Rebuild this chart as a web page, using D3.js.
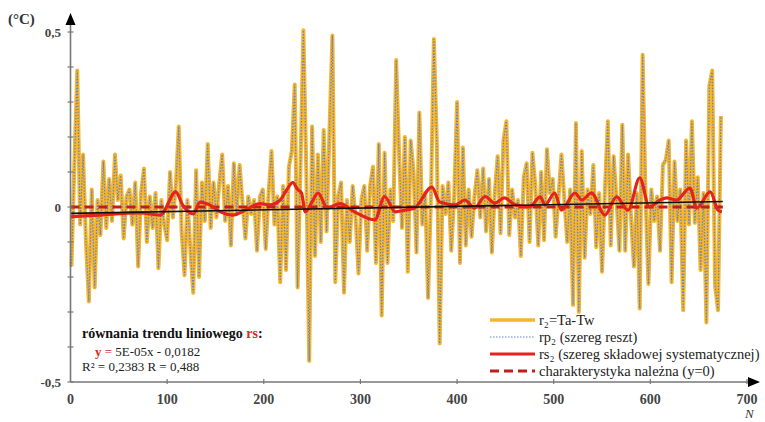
<!DOCTYPE html>
<html><head><meta charset="utf-8">
<script src="https://cdn.jsdelivr.net/npm/d3@7/dist/d3.min.js"></script>
<style>body{margin:0;background:#fff}svg{display:block}</style>
</head><body>
<svg id="c" width="765" height="422" font-family="'Liberation Serif','Times New Roman','DejaVu Serif',serif"></svg>
<script>
// r2 = Ta - Tw, sampled every 3rd observation starting at N=1
const r2Start = 1, r2Step = 3;
const r2 = [
-0.17,0.12,0.39,-0.05,0.15,-0.10,-0.27,0.05,-0.23,0.02,
-0.08,0.13,-0.06,0.08,-0.04,0.15,0.02,0.09,-0.09,0.03,
0.05,-0.05,0.07,-0.17,0.04,0.11,-0.10,0.03,-0.06,0.04,
-0.175,0.02,-0.05,-0.095,0.10,-0.03,0.06,0.23,-0.07,-0.195,
0.02,-0.12,-0.245,0.105,-0.20,0.07,-0.04,0.18,-0.06,0.07,
-0.03,0.07,0.15,-0.04,0.06,-0.11,0.125,-0.02,0.12,0.01,
-0.09,0.03,-0.02,0.02,-0.125,0.03,0.05,-0.12,0.04,0.16,
-0.05,0.03,-0.215,0.06,-0.18,0.115,0.16,0.35,-0.23,0.12,
0.505,0.10,-0.44,0.23,-0.14,0.15,-0.10,0.22,-0.07,0.22,
0.49,-0.215,0.03,0.07,-0.245,0.02,-0.10,0.06,-0.03,-0.19,
0.02,0.06,-0.125,0.06,0.115,-0.16,0.18,-0.31,0.155,-0.16,
0.05,-0.04,0.42,0.15,-0.06,0.20,-0.185,0.19,0.10,-0.13,
0.27,-0.05,0.04,-0.26,0.03,0.48,0.19,-0.39,0.06,-0.02,
0.07,-0.125,0.03,0.30,-0.16,0.17,-0.11,0.05,-0.085,0.03,
0.105,-0.03,0.11,-0.07,0.08,-0.13,0.04,0.145,-0.075,0.19,
0.245,-0.08,0.05,-0.03,0.02,-0.14,0.085,0.125,-0.10,0.155,
0.06,-0.11,0.10,-0.095,0.165,0.04,0.08,-0.085,0.03,0.15,
0.02,-0.10,0.05,-0.28,0.24,-0.30,0.16,-0.145,0.05,-0.02,
0.12,-0.115,0.04,-0.185,0.05,0.245,-0.11,0.145,0.02,-0.125,
0.235,-0.125,0.15,-0.03,-0.17,0.04,-0.29,0.435,0.03,-0.22,
0.05,-0.04,0.03,-0.125,0.12,0.135,0.19,-0.215,0.13,-0.04,
0.05,-0.295,0.19,-0.05,0.245,-0.045,0.085,-0.18,0.04,-0.33,
0.345,0.39,-0.225,-0.295,0.26
];
// rs2 systematic component (smoothed)
const rsN = [0,30,72,93,109,116,127,134,144,155,168,180,196,206,217,224,230,235,239,243,250,256,266,279,294,315,325,336,346,356,374,382,398,408,418,429,439,449,460,475,486,491,501,508,522,529,539,553,565,577,589,599,610,617,627,641,648,662,670,674];
const rsV = [-0.028,-0.023,-0.017,-0.023,0.043,0.006,-0.02,0.014,0.006,-0.014,-0.023,-0.01,0.01,0.006,0.02,0.05,0.07,0.05,0.04,-0.014,0.015,0.04,-0.003,0.01,-0.014,-0.037,0.03,-0.014,-0.009,-0.003,0.057,0.014,0.006,0.02,-0.003,0.03,0.011,0.026,0.006,0,0.029,0.006,0.04,-0.009,0.04,0.02,0.04,-0.023,0.029,-0.009,0.083,0,0.02,0.026,0.02,0.054,-0.003,0.043,-0.009,-0.014];
const trendSlope = 5e-5, trendIntercept = -0.0182, nMax = 675;
const xTicks = [0,100,200,300,400,500,600,700];
const yLabels = [{v:0.5,t:"0,5"},{v:0,t:"0"},{v:-0.5,t:"-0,5"}];
const legendItems = ["r₂=Ta-Tw","rp₂ (szereg reszt)","rs₂ (szereg składowej systematycznej)","charakterystyka należna (y=0)"];

const svg = d3.select("#c");
const x = d3.scaleLinear().domain([0,700]).range([70.5,747]);
const y = d3.scaleLinear().domain([-0.5,0.5]).range([382,32]);

const r2Data = r2.map((v,i)=>({n:r2Start+i*r2Step,v}));
const rsData = rsN.map((n,i)=>({n,v:rsV[i]}));
const line = d3.line().x(d=>x(d.n)).y(d=>y(d.v));

const orange="#f5b52c", blue="#6681c4", red="#e4231c", dred="#c01f1a";

svg.append("path").datum(r2Data).attr("d",line).attr("fill","none")
  .attr("stroke",orange).attr("stroke-width",4).attr("stroke-linejoin","round");
svg.append("path").datum(r2Data).attr("d",line).attr("fill","none")
  .attr("stroke",blue).attr("stroke-width",1.2).attr("stroke-dasharray","1.5,1.5");
svg.append("path").datum([{n:0,v:0},{n:nMax,v:0}]).attr("d",line).attr("fill","none")
  .attr("stroke",dred).attr("stroke-width",3).attr("stroke-dasharray","9,5");
svg.append("path").datum(rsData).attr("d",d3.line().x(d=>x(d.n)).y(d=>y(d.v)).curve(d3.curveMonotoneX)).attr("fill","none")
  .attr("stroke",red).attr("stroke-width",3.2).attr("stroke-linejoin","round");
svg.append("path").datum([0,nMax].map(n=>({n,v:trendIntercept+trendSlope*n}))).attr("d",line)
  .attr("fill","none").attr("stroke","#111").attr("stroke-width",1.6);

// axes
const ax = svg.append("g");
ax.append("line").attr("x1",x(0)).attr("x2",x(0)).attr("y1",y(-0.5)).attr("y2",22).attr("stroke","#777").attr("stroke-width",1.6);
ax.append("line").attr("x1",x(0)).attr("x2",750).attr("y1",y(-0.5)).attr("y2",y(-0.5)).attr("stroke","#777").attr("stroke-width",1.6);
ax.append("path").attr("d",`M${x(0)},13 L${x(0)-5},25 L${x(0)+5},25 Z`).attr("fill","#000");
ax.append("path").attr("d",`M760,${y(-0.5)} L748,${y(-0.5)-5} L748,${y(-0.5)+5} Z`).attr("fill","#000");
ax.selectAll(".yt").data(d3.range(-5,6).map(d=>d/10)).join("line")
  .attr("x1",x(0)-3).attr("x2",x(0)+3).attr("y1",d=>y(d)).attr("y2",d=>y(d)).attr("stroke","#777").attr("stroke-width",1.2);
ax.selectAll(".xt").data(xTicks.slice(1)).join("line")
  .attr("x1",d=>x(d)).attr("x2",d=>x(d)).attr("y1",y(-0.5)-3).attr("y2",y(-0.5)+2).attr("stroke","#777").attr("stroke-width",1.2);
ax.selectAll(".xl").data(xTicks).join("text").attr("x",d=>x(d)).attr("y",404)
  .attr("text-anchor","middle").attr("font-size",14).attr("font-weight","bold").attr("fill","#444").text(d=>d);
ax.selectAll(".yl").data(yLabels).join("text").attr("x",61).attr("y",d=>y(d.v)+5)
  .attr("text-anchor","end").attr("font-size",13).attr("font-weight","bold").attr("fill","#444").text(d=>d.t);
svg.append("text").attr("x",8).attr("y",24).attr("font-size",15).attr("font-weight","bold").attr("fill","#333").text("(°C)");
svg.append("text").attr("x",745).attr("y",418).attr("font-size",13).attr("font-style","italic").attr("fill","#333").text("N");

// legend
const lg = svg.append("g");
const rows=[320,337,354,371];
lg.append("line").attr("x1",490).attr("x2",535).attr("y1",rows[0]).attr("y2",rows[0]).attr("stroke",orange).attr("stroke-width",3.5);
lg.append("line").attr("x1",490).attr("x2",535).attr("y1",rows[1]).attr("y2",rows[1]).attr("stroke",blue).attr("stroke-width",1.2).attr("stroke-dasharray","1.5,1.5");
lg.append("line").attr("x1",490).attr("x2",535).attr("y1",rows[2]).attr("y2",rows[2]).attr("stroke",red).attr("stroke-width",3.2);
lg.append("line").attr("x1",490).attr("x2",535).attr("y1",rows[3]).attr("y2",rows[3]).attr("stroke",dred).attr("stroke-width",3.2).attr("stroke-dasharray","9,5");
lg.selectAll("text").data(legendItems).join("text").attr("x",539).attr("y",(d,i)=>rows[i]+5)
  .attr("font-size",14.5).attr("fill","#222").text(d=>d);

// annotation
const an = svg.append("text").attr("x",82).attr("y",338).attr("font-size",14).attr("font-weight","bold").attr("fill","#111");
an.append("tspan").text("równania trendu liniowego ");
an.append("tspan").attr("fill",red).text("rs");
an.append("tspan").text(":");
const eq = svg.append("text").attr("x",95).attr("y",356).attr("font-size",13).attr("fill","#222");
eq.append("tspan").attr("fill",red).attr("font-weight","bold").text("y");
eq.append("tspan").attr("fill",red).text(" = ");
eq.append("tspan").text("5E-05x - 0,0182");
svg.append("text").attr("x",82).attr("y",371).attr("font-size",13).attr("fill","#222").text("R² = 0,2383  R = 0,488");
</script>
</body></html>
